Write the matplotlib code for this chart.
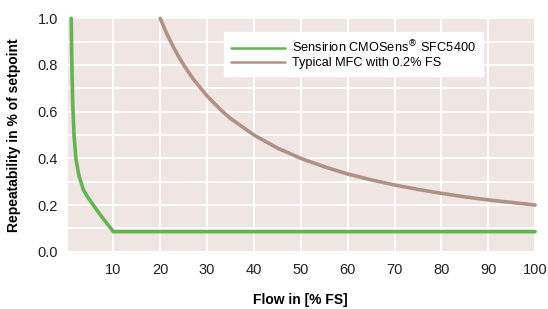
import matplotlib.pyplot as plt
import numpy as np

plt.rcParams['font.family'] = ['Liberation Sans', 'DejaVu Sans']

# Sensirion CMOSens SFC5400 repeatability
sfc_flow = [1.0, 1.1, 1.2, 1.35, 1.6, 2.0, 2.6, 3.6, 4.5, 5.7, 7.5, 10, 100]
sfc_rep = [1.0, 0.86, 0.74, 0.62, 0.50, 0.40, 0.33, 0.265, 0.235, 0.20, 0.15, 0.086, 0.086]

# Typical MFC with 0.2% FS
mfc_flow = [20, 21, 22, 23, 24, 25, 27, 30, 33, 35, 40, 45, 50, 55, 60, 65, 70, 75, 80, 85, 90, 95, 100]
mfc_rep = [1.0, 0.952, 0.909, 0.870, 0.833, 0.80, 0.741, 0.667, 0.606, 0.571, 0.50, 0.444, 0.40,
           0.364, 0.333, 0.308, 0.286, 0.267, 0.25, 0.235, 0.222, 0.211, 0.20]

fig = plt.figure(figsize=(5.48, 3.09), dpi=100)
ax = fig.add_axes([0.1214, 0.1854, 0.855, 0.7554])
ax.set_facecolor('#efe5e3')

ax.plot(sfc_flow, sfc_rep, color='#62b54f', lw=2.6, label='Sensirion CMOSens$^{\\circledR}$ SFC5400',
        clip_on=False, solid_capstyle='round')
ax.plot(mfc_flow, mfc_rep, color='#b09184', lw=2.6, label='Typical MFC with 0.2% FS',
        clip_on=False, solid_capstyle='round')

ax.set_xlim(0, 100)
ax.set_ylim(0, 1.0)
ax.set_xticks(np.arange(10, 101, 10))
ax.set_xticks(np.arange(0, 101, 10), minor=True)
ax.set_yticks(np.arange(0, 1.01, 0.2))
ax.set_yticks(np.arange(0, 1.01, 0.1), minor=True)
ax.set_yticklabels(['0.0', '0.2', '0.4', '0.6', '0.8', '1.0'])
ax.grid(which='both', color='white', lw=1.4)
ax.set_axisbelow(True)
ax.tick_params(which='both', length=0, labelsize=10.5, colors='#222222')
ax.tick_params(axis='x', pad=8)
ax.tick_params(axis='y', pad=6)
for s in ax.spines.values():
    s.set_visible(False)

ax.set_xlabel('Flow in [% FS]', fontsize=10, fontweight='bold', labelpad=12)
ax.set_ylabel('Repeatability in % of setpoint', fontsize=10, fontweight='bold', labelpad=12)

leg = ax.legend(loc='upper left', bbox_to_anchor=(0.336, 0.941), frameon=True, fancybox=False,
                edgecolor='white', facecolor='white', framealpha=1, fontsize=9.2,
                handlelength=4.2, handletextpad=0.6, borderpad=0.55, labelspacing=0.15,
                borderaxespad=0)
for line in leg.get_lines():
    line.set_linewidth(1.8)

fig.savefig('out.png', dpi=100)
